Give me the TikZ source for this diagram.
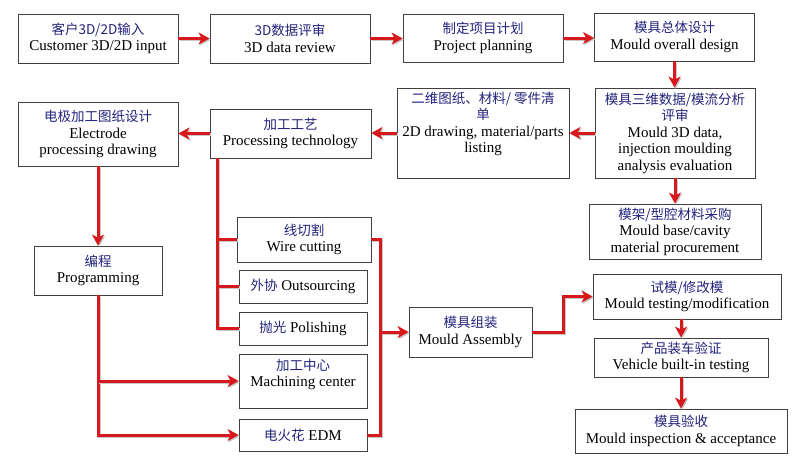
\documentclass[tikz,border=0pt]{standalone}
\usepackage{fontspec}
\setmainfont{Liberation Serif}
\newfontfamily\cjk{Noto Sans CJK SC}
\usetikzlibrary{arrows.meta,positioning,calc}
\definecolor{cn}{RGB}{35,35,125}
\definecolor{arr}{RGB}{215,25,30}
\newcommand\zh[1]{{\cjk\color{cn}\fontsize{13.5}{16.5}\selectfont #1}}
\tikzset{
  box/.style={draw=black!75, line width=0.8pt, fill=white, align=center, inner sep=2pt,
    font=\fontsize{15}{16.5}\selectfont},
  txt/.style={align=center, inner sep=0pt, font=\fontsize{15}{16.5}\selectfont},
  shade/.style={preaction={draw=black!22, line width=3pt, transform canvas={shift={(1.2pt,-1.2pt)}}}},
  flow/.style={shade, draw=arr, line width=3pt, -{Stealth[length=11pt,width=12pt,inset=3pt]}},
  link/.style={shade, draw=arr, line width=3pt},
}
\begin{document}
\begin{tikzpicture}[x=1pt,y=-1pt]
\fill[white] (0,0) rectangle (800,467);
\useasboundingbox (0,0) rectangle (800,467);

% top row
\node[box, minimum width=160pt, minimum height=49pt] (b1) at (98,38.5) {\zh{客户3D/2D输入}\\Customer 3D/2D input};
\node[box, minimum width=160pt, minimum height=49pt] (b2) at (290,38.5) {\zh{3D数据评审}\\3D data review};
\node[box, minimum width=160pt, minimum height=48pt] (b3) at (483,38) {\zh{制定项目计划}\\Project planning};
\node[box, minimum width=160pt, minimum height=48pt] (b4) at (674.5,37) {\zh{模具总体设计}\\Mould overall design};

% second row
\node[box, minimum width=160pt, minimum height=90pt] (b5) at (675,133) {\zh{模具三维数据/模流分析}\\\zh{评审}\\Mould 3D data,\\injection moulding\\analysis evaluation};
\node[box, minimum width=172pt, minimum height=90pt] (b6) at (483,133) {};
\node[txt, anchor=north] (t6) at ($(b6.north)+(0,4)$) {\zh{二维图纸、材料/ 零件清}\\\zh{单}\\2D drawing, material/parts\\listing};
\node[box, minimum width=172pt, minimum height=55pt] (b7) at (675,231.5) {\zh{模架/型腔材料采购}\\Mould base/cavity\\material procurement};
\node[box, minimum width=161pt, minimum height=49pt] (b8) at (290.5,133.5) {\zh{加工工艺}\\Processing technology};
\node[box, minimum width=160pt, minimum height=64pt] (b9) at (98,134) {\zh{电极加工图纸设计}\\Electrode\\processing drawing};

% left / middle
\node[box, minimum width=128pt, minimum height=49pt] (prog) at (98,270.5) {\zh{编程}\\Programming};
\node[box, minimum width=134pt, minimum height=45pt] (wire) at (304,239.5) {\zh{线切割}\\Wire cutting};
\node[box, minimum width=128pt, minimum height=33pt] (outs) at (303,286.5) {\zh{外协} Outsourcing};
\node[box, minimum width=128pt, minimum height=33pt] (pol) at (303,328.5) {\zh{抛光} Polishing};
\node[box, minimum width=128pt, minimum height=54pt] (mach) at (303,381) {};
\node[txt, anchor=north] (tm) at ($(mach.north)+(0,5)$) {\zh{加工中心}\\Machining center};
\node[box, minimum width=128pt, minimum height=32pt] (edm) at (303,435) {\zh{电火花} EDM};

% right lower
\node[box, minimum width=123pt, minimum height=50pt] (assy) at (470.5,332) {\zh{模具组装}\\Mould Assembly};
\node[box, minimum width=188pt, minimum height=45pt] (test) at (687,296.5) {\zh{试模/修改模}\\Mould testing/modification};
\node[box, minimum width=174pt, minimum height=39pt] (veh) at (681,357.5) {\zh{产品装车验证}\\Vehicle built-in testing};
\node[box, minimum width=212pt, minimum height=44pt] (insp) at (681,431) {\zh{模具验收}\\Mould inspection \& acceptance};

% connectors
\draw[flow] (b1.east) -- (b1.east -| b2.west);
\draw[flow] (b2.east) -- (b2.east -| b3.west);
\draw[flow] (b3.east) -- (b3.east -| b4.west);
\draw[flow] (b4.south) -- (b4.south |- b5.north);
\draw[flow] (b5.west) -- (b5.west -| b6.east);
\draw[flow] (b5.south) -- (b5.south |- b7.north);
\draw[flow] (b6.west) -- (b6.west -| b8.east);
\draw[flow] (b8.west) -- (b8.west -| b9.east);
\draw[flow] (b9.south) -- (b9.south |- prog.north);

\coordinate (pt) at ($(b8.south west)+(8,0)$);
\draw[link] (pt) |- (pol.west);
\draw[link] (pt |- wire.west) -- (wire.west);
\draw[link] (pt |- outs.west) -- (outs.west);

\draw[flow] (prog.south) |- (edm.west);
\draw[flow] (prog.south |- mach.west) -- (mach.west);

\coordinate (rb) at ($(wire.east)+(9,0)$);
\draw[link] (wire.east) -- (rb) |- (edm.east);
\draw[flow] (rb |- assy.west) -- (assy.west);
\draw[flow] (assy.east) -- ++(31,0) |- (test.west);
\draw[flow] (test.south -| veh.north) -- (veh.north);
\draw[flow] (veh.south) -- (veh.south |- insp.north);
\end{tikzpicture}
\end{document}
